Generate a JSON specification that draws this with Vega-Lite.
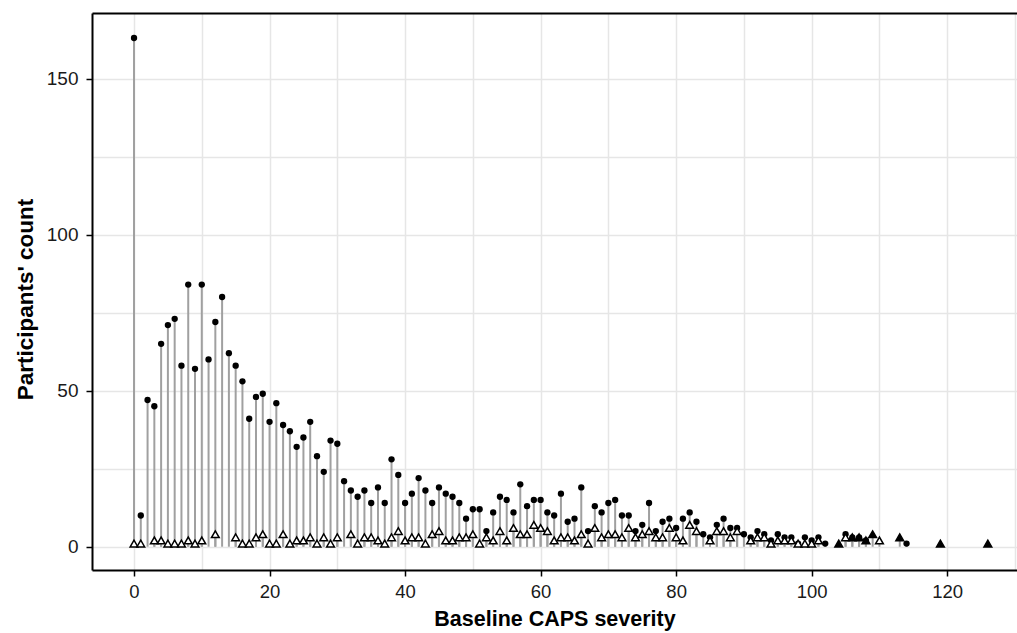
{
  "$schema": "https://vega.github.io/schema/vega-lite/v6.json",
  "autosize": {"type": "none"},
  "padding": {"left": 92, "top": 13, "right": 0, "bottom": 63},
  "width": 925,
  "height": 557,
  "background": "white",
  "config": {
    "view": {"stroke": null},
    "font": "Liberation Sans",
    "axis": {"labelFont": "Liberation Sans", "titleFont": "Liberation Sans", "labelColor": "#1a1a1a", "titleColor": "#000000"}
  },
  "datasets": {
    "counts": [
      {"caps": 0, "count": 163, "group": "dot"}, {"caps": 1, "count": 10, "group": "dot"}, {"caps": 2, "count": 47, "group": "dot"}, {"caps": 3, "count": 45, "group": "dot"},
      {"caps": 4, "count": 65, "group": "dot"}, {"caps": 5, "count": 71, "group": "dot"}, {"caps": 6, "count": 73, "group": "dot"}, {"caps": 7, "count": 58, "group": "dot"},
      {"caps": 8, "count": 84, "group": "dot"}, {"caps": 9, "count": 57, "group": "dot"}, {"caps": 10, "count": 84, "group": "dot"}, {"caps": 11, "count": 60, "group": "dot"},
      {"caps": 12, "count": 72, "group": "dot"}, {"caps": 13, "count": 80, "group": "dot"}, {"caps": 14, "count": 62, "group": "dot"}, {"caps": 15, "count": 58, "group": "dot"},
      {"caps": 16, "count": 53, "group": "dot"}, {"caps": 17, "count": 41, "group": "dot"}, {"caps": 18, "count": 48, "group": "dot"}, {"caps": 19, "count": 49, "group": "dot"},
      {"caps": 20, "count": 40, "group": "dot"}, {"caps": 21, "count": 46, "group": "dot"}, {"caps": 22, "count": 39, "group": "dot"}, {"caps": 23, "count": 37, "group": "dot"},
      {"caps": 24, "count": 32, "group": "dot"}, {"caps": 25, "count": 35, "group": "dot"}, {"caps": 26, "count": 40, "group": "dot"}, {"caps": 27, "count": 29, "group": "dot"},
      {"caps": 28, "count": 24, "group": "dot"}, {"caps": 29, "count": 34, "group": "dot"}, {"caps": 30, "count": 33, "group": "dot"}, {"caps": 31, "count": 21, "group": "dot"},
      {"caps": 32, "count": 18, "group": "dot"}, {"caps": 33, "count": 16, "group": "dot"}, {"caps": 34, "count": 18, "group": "dot"}, {"caps": 35, "count": 14, "group": "dot"},
      {"caps": 36, "count": 19, "group": "dot"}, {"caps": 37, "count": 14, "group": "dot"}, {"caps": 38, "count": 28, "group": "dot"}, {"caps": 39, "count": 23, "group": "dot"},
      {"caps": 40, "count": 14, "group": "dot"}, {"caps": 41, "count": 17, "group": "dot"}, {"caps": 42, "count": 22, "group": "dot"}, {"caps": 43, "count": 18, "group": "dot"},
      {"caps": 44, "count": 14, "group": "dot"}, {"caps": 45, "count": 19, "group": "dot"}, {"caps": 46, "count": 17, "group": "dot"}, {"caps": 47, "count": 16, "group": "dot"},
      {"caps": 48, "count": 14, "group": "dot"}, {"caps": 49, "count": 9, "group": "dot"}, {"caps": 50, "count": 12, "group": "dot"}, {"caps": 51, "count": 12, "group": "dot"},
      {"caps": 52, "count": 5, "group": "dot"}, {"caps": 53, "count": 11, "group": "dot"}, {"caps": 54, "count": 16, "group": "dot"}, {"caps": 55, "count": 15, "group": "dot"},
      {"caps": 56, "count": 11, "group": "dot"}, {"caps": 57, "count": 20, "group": "dot"}, {"caps": 58, "count": 13, "group": "dot"}, {"caps": 59, "count": 15, "group": "dot"},
      {"caps": 60, "count": 15, "group": "dot"}, {"caps": 61, "count": 11, "group": "dot"}, {"caps": 62, "count": 10, "group": "dot"}, {"caps": 63, "count": 17, "group": "dot"},
      {"caps": 64, "count": 8, "group": "dot"}, {"caps": 65, "count": 9, "group": "dot"}, {"caps": 66, "count": 19, "group": "dot"}, {"caps": 67, "count": 5, "group": "dot"},
      {"caps": 68, "count": 13, "group": "dot"}, {"caps": 69, "count": 11, "group": "dot"}, {"caps": 70, "count": 14, "group": "dot"}, {"caps": 71, "count": 15, "group": "dot"},
      {"caps": 72, "count": 10, "group": "dot"}, {"caps": 73, "count": 10, "group": "dot"}, {"caps": 74, "count": 5, "group": "dot"}, {"caps": 75, "count": 7, "group": "dot"},
      {"caps": 76, "count": 14, "group": "dot"}, {"caps": 77, "count": 5, "group": "dot"}, {"caps": 78, "count": 8, "group": "dot"}, {"caps": 79, "count": 9, "group": "dot"},
      {"caps": 80, "count": 6, "group": "dot"}, {"caps": 81, "count": 9, "group": "dot"}, {"caps": 82, "count": 11, "group": "dot"}, {"caps": 83, "count": 8, "group": "dot"},
      {"caps": 84, "count": 4, "group": "dot"}, {"caps": 85, "count": 3, "group": "dot"}, {"caps": 86, "count": 7, "group": "dot"}, {"caps": 87, "count": 9, "group": "dot"},
      {"caps": 88, "count": 6, "group": "dot"}, {"caps": 89, "count": 6, "group": "dot"}, {"caps": 90, "count": 4, "group": "dot"}, {"caps": 91, "count": 3, "group": "dot"},
      {"caps": 92, "count": 5, "group": "dot"}, {"caps": 93, "count": 4, "group": "dot"}, {"caps": 94, "count": 2, "group": "dot"}, {"caps": 95, "count": 4, "group": "dot"},
      {"caps": 96, "count": 3, "group": "dot"}, {"caps": 97, "count": 3, "group": "dot"}, {"caps": 98, "count": 1, "group": "dot"}, {"caps": 99, "count": 3, "group": "dot"},
      {"caps": 100, "count": 2, "group": "dot"}, {"caps": 101, "count": 3, "group": "dot"}, {"caps": 102, "count": 1, "group": "dot"}, {"caps": 105, "count": 4, "group": "dot"},
      {"caps": 106, "count": 3, "group": "dot"}, {"caps": 107, "count": 3, "group": "dot"}, {"caps": 108, "count": 2, "group": "dot"}, {"caps": 114, "count": 1, "group": "dot"},

      {"caps": 0, "count": 1, "group": "open"}, {"caps": 1, "count": 1, "group": "open"}, {"caps": 3, "count": 2, "group": "open"}, {"caps": 4, "count": 2, "group": "open"},
      {"caps": 5, "count": 1, "group": "open"}, {"caps": 6, "count": 1, "group": "open"}, {"caps": 7, "count": 1, "group": "open"}, {"caps": 8, "count": 2, "group": "open"},
      {"caps": 9, "count": 1, "group": "open"}, {"caps": 10, "count": 2, "group": "open"}, {"caps": 12, "count": 4, "group": "open"}, {"caps": 15, "count": 3, "group": "open"},
      {"caps": 16, "count": 1, "group": "open"}, {"caps": 17, "count": 1, "group": "open"}, {"caps": 18, "count": 3, "group": "open"}, {"caps": 19, "count": 4, "group": "open"},
      {"caps": 20, "count": 1, "group": "open"}, {"caps": 21, "count": 1, "group": "open"}, {"caps": 22, "count": 4, "group": "open"}, {"caps": 23, "count": 1, "group": "open"},
      {"caps": 24, "count": 2, "group": "open"}, {"caps": 25, "count": 2, "group": "open"}, {"caps": 26, "count": 3, "group": "open"}, {"caps": 27, "count": 1, "group": "open"},
      {"caps": 28, "count": 3, "group": "open"}, {"caps": 29, "count": 1, "group": "open"}, {"caps": 30, "count": 3, "group": "open"}, {"caps": 32, "count": 4, "group": "open"},
      {"caps": 33, "count": 1, "group": "open"}, {"caps": 34, "count": 3, "group": "open"}, {"caps": 35, "count": 3, "group": "open"}, {"caps": 36, "count": 2, "group": "open"},
      {"caps": 37, "count": 1, "group": "open"}, {"caps": 38, "count": 3, "group": "open"}, {"caps": 39, "count": 5, "group": "open"}, {"caps": 40, "count": 2, "group": "open"},
      {"caps": 41, "count": 3, "group": "open"}, {"caps": 42, "count": 3, "group": "open"}, {"caps": 43, "count": 1, "group": "open"}, {"caps": 44, "count": 4, "group": "open"},
      {"caps": 45, "count": 5, "group": "open"}, {"caps": 46, "count": 2, "group": "open"}, {"caps": 47, "count": 2, "group": "open"}, {"caps": 48, "count": 3, "group": "open"},
      {"caps": 49, "count": 3, "group": "open"}, {"caps": 50, "count": 4, "group": "open"}, {"caps": 51, "count": 1, "group": "open"}, {"caps": 52, "count": 3, "group": "open"},
      {"caps": 53, "count": 2, "group": "open"}, {"caps": 54, "count": 5, "group": "open"}, {"caps": 55, "count": 2, "group": "open"}, {"caps": 56, "count": 6, "group": "open"},
      {"caps": 57, "count": 4, "group": "open"}, {"caps": 58, "count": 4, "group": "open"}, {"caps": 59, "count": 7, "group": "open"}, {"caps": 60, "count": 6, "group": "open"},
      {"caps": 61, "count": 5, "group": "open"}, {"caps": 62, "count": 2, "group": "open"}, {"caps": 63, "count": 3, "group": "open"}, {"caps": 64, "count": 3, "group": "open"},
      {"caps": 65, "count": 2, "group": "open"}, {"caps": 66, "count": 4, "group": "open"}, {"caps": 67, "count": 1, "group": "open"}, {"caps": 68, "count": 6, "group": "open"},
      {"caps": 69, "count": 3, "group": "open"}, {"caps": 70, "count": 4, "group": "open"}, {"caps": 71, "count": 4, "group": "open"}, {"caps": 72, "count": 3, "group": "open"},
      {"caps": 73, "count": 6, "group": "open"}, {"caps": 74, "count": 3, "group": "open"}, {"caps": 75, "count": 4, "group": "open"}, {"caps": 76, "count": 5, "group": "open"},
      {"caps": 77, "count": 3, "group": "open"}, {"caps": 78, "count": 3, "group": "open"}, {"caps": 79, "count": 6, "group": "open"}, {"caps": 80, "count": 3, "group": "open"},
      {"caps": 81, "count": 2, "group": "open"}, {"caps": 82, "count": 7, "group": "open"}, {"caps": 83, "count": 5, "group": "open"}, {"caps": 85, "count": 2, "group": "open"},
      {"caps": 86, "count": 5, "group": "open"}, {"caps": 87, "count": 5, "group": "open"}, {"caps": 88, "count": 3, "group": "open"}, {"caps": 89, "count": 5, "group": "open"},
      {"caps": 91, "count": 2, "group": "open"}, {"caps": 92, "count": 3, "group": "open"}, {"caps": 93, "count": 3, "group": "open"}, {"caps": 94, "count": 1, "group": "open"},
      {"caps": 95, "count": 2, "group": "open"}, {"caps": 96, "count": 2, "group": "open"}, {"caps": 97, "count": 2, "group": "open"}, {"caps": 98, "count": 1, "group": "open"},
      {"caps": 99, "count": 1, "group": "open"}, {"caps": 100, "count": 1, "group": "open"}, {"caps": 101, "count": 2, "group": "open"}, {"caps": 105, "count": 3, "group": "open"},
      {"caps": 110, "count": 2, "group": "open"},

      {"caps": 104, "count": 1, "group": "filled"}, {"caps": 106, "count": 3, "group": "filled"}, {"caps": 107, "count": 3, "group": "filled"}, {"caps": 108, "count": 2, "group": "filled"},
      {"caps": 109, "count": 4, "group": "filled"}, {"caps": 113, "count": 3, "group": "filled"}, {"caps": 119, "count": 1, "group": "filled"}, {"caps": 126, "count": 1, "group": "filled"}
    ]
  },
  "data": {"name": "counts"},
  "layer": [
    {
      "mark": {"type": "rule", "color": "#a0a0a0", "strokeWidth": 2},
      "encoding": {
        "x": {
          "field": "caps", "type": "quantitative",
          "scale": {"domain": [-6.2, 130.3], "nice": false, "zero": false},
          "axis": {
            "orient": "bottom", "values": [0, 20, 40, 60, 80, 100, 120], "grid": false,
            "title": "Baseline CAPS severity", "titleFontSize": 21.5, "titleFontWeight": "bold", "titlePadding": 8,
            "labelFontSize": 18.5, "labelPadding": 6, "tickSize": 6, "tickColor": "#000000", "tickWidth": 1.5,
            "domainColor": "#000000", "domainWidth": 2
          }
        },
        "y": {
          "field": "count", "type": "quantitative",
          "scale": {"domain": [-7.46, 171], "nice": false, "zero": false},
          "axis": {
            "orient": "left", "values": [0, 50, 100, 150], "grid": false,
            "title": "Participants' count", "titleFontSize": 22.5, "titleFontWeight": "bold", "titlePadding": 9, "titleY": 286,
            "labelFontSize": 19, "labelPadding": 8, "tickSize": 6, "tickColor": "#000000", "tickWidth": 1.5,
            "domainColor": "#000000", "domainWidth": 2
          }
        },
        "y2": {"datum": 0}
      }
    },
    {
      "transform": [{"filter": "datum.group == 'dot'"}],
      "mark": {"type": "point", "shape": "circle", "filled": true, "color": "#000000", "size": 40, "opacity": 1},
      "encoding": {
        "x": {
          "field": "caps", "type": "quantitative",
          "scale": {"domain": [-6.2, 130.3], "nice": false, "zero": false},
          "axis": {
            "orient": "top", "values": [0, 10, 20, 30, 40, 50, 60, 70, 80, 90, 100, 110, 120, 130],
            "grid": true, "gridColor": "#e6e6e6", "gridWidth": 1.5, "labels": false, "ticks": false, "title": null,
            "domainColor": "#000000", "domainWidth": 2
          }
        },
        "y": {
          "field": "count", "type": "quantitative",
          "scale": {"domain": [-7.46, 171], "nice": false, "zero": false},
          "axis": {
            "orient": "right", "values": [0, 25, 50, 75, 100, 125, 150],
            "grid": true, "gridColor": "#e6e6e6", "gridWidth": 1.5, "labels": false, "ticks": false, "title": null,
            "domain": false
          }
        }
      }
    },
    {
      "transform": [{"filter": "datum.group == 'open'"}],
      "mark": {"type": "point", "shape": "triangle-up", "filled": true, "fill": "#ffffff", "stroke": "#000000", "strokeWidth": 1.5, "size": 60, "opacity": 1},
      "encoding": {
        "x": {"field": "caps", "type": "quantitative", "scale": {"domain": [-6.2, 130.3], "nice": false, "zero": false}, "axis": null},
        "y": {"field": "count", "type": "quantitative", "scale": {"domain": [-7.46, 171], "nice": false, "zero": false}, "axis": null}
      }
    },
    {
      "transform": [{"filter": "datum.group == 'filled'"}],
      "mark": {"type": "point", "shape": "triangle-up", "filled": true, "fill": "#000000", "stroke": "#000000", "strokeWidth": 1.5, "size": 60, "opacity": 1},
      "encoding": {
        "x": {"field": "caps", "type": "quantitative", "scale": {"domain": [-6.2, 130.3], "nice": false, "zero": false}, "axis": null},
        "y": {"field": "count", "type": "quantitative", "scale": {"domain": [-7.46, 171], "nice": false, "zero": false}, "axis": null}
      }
    }
  ],
  "resolve": {"axis": {"x": "independent", "y": "independent"}}
}
